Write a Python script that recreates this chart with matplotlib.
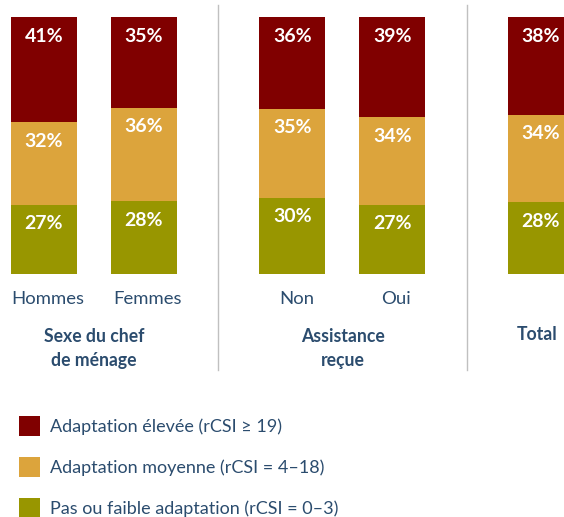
import numpy as np
import matplotlib.pyplot as plt
from matplotlib.lines import Line2D
from matplotlib.transforms import blended_transform_factory

plt.rcParams['font.family'] = ['Lato', 'DejaVu Sans']

categories = ['Hommes', 'Femmes', 'Non', 'Oui', 'Total']
eleve = [41, 35, 36, 39, 38]
moyenne = [32, 36, 35, 34, 34]
faible = [27, 28, 30, 27, 28]
groups = ['Sexe du chef\nde ménage', 'Assistance\nreçue', 'Total']
series_names = ['Adaptation élevée (rCSI ≥ 19)',
                'Adaptation moyenne (rCSI = 4–18)',
                'Pas ou faible adaptation (rCSI = 0–3)']

# stacking order: bottom to top (faible, moyenne, eleve)
colors = ['#989600', '#dca43c', '#800000']
txt_color = '#2b4c6e'
W, H = 564, 517


def fy(px):
    return (H - px) / H


if __name__ == '__main__':
    fig = plt.figure(figsize=(W / 100, H / 100), dpi=100)
    ax = fig.add_axes([0, fy(274), 1, 257 / H])
    x = np.array([0, 1, 2.485, 3.485, 4.97])
    ax.set_xlim(-0.44, 5.20)
    ax.set_ylim(0, 100)
    ax.axis('off')

    vals = np.array([faible, moyenne, eleve], dtype=float)
    vals = vals / vals.sum(axis=0) * 100
    raw = [faible, moyenne, eleve]
    bottom = np.zeros(len(categories))
    handles = {}
    for i in range(3):
        b = ax.bar(x, vals[i], 0.66, bottom=bottom, color=colors[i], linewidth=0)
        handles[i] = b
        for xi, top, r in zip(x, bottom + vals[i], raw[i]):
            ax.annotate(f'{r}%', (xi, top), xytext=(0, -19), textcoords='offset pixels',
                        ha='center', va='center', color='white', fontsize=14,
                        fontweight='bold')
        bottom += vals[i]

    tr = blended_transform_factory(ax.transData, fig.transFigure)
    for xi, c in zip(x[:4], categories[:4]):
        fig.text(xi + 0.04, fy(299), c, transform=tr, ha='center', va='center',
                 fontsize=13.3, color=txt_color)
    group_x = [(x[0] + x[1]) / 2, (x[2] + x[3]) / 2, x[4] - 0.04]
    group_y = [fy(348.5), fy(348.5), fy(335)]
    for gx, gy, g in zip(group_x, group_y, groups):
        fig.text(gx, gy, g, transform=tr, ha='center', va='center', fontsize=12.7,
                 fontweight='bold', color=txt_color, linespacing=1.45)

    for sx in [1.74, 4.23]:
        fig.add_artist(Line2D([sx, sx], [fy(5), fy(370)], transform=tr,
                              color='#c0c0c0', linewidth=1))

    fig.legend([handles[2], handles[1], handles[0]],
               [series_names[0], series_names[1], series_names[2]],
               loc='upper left', bbox_to_anchor=(0.02, fy(409)), frameon=False,
               fontsize=13, handlelength=1.2, handleheight=1.3, handletextpad=0.55,
               labelspacing=1.17, labelcolor=txt_color, borderaxespad=0)

    plt.savefig('out.png', dpi=100)
    print('Done!')
